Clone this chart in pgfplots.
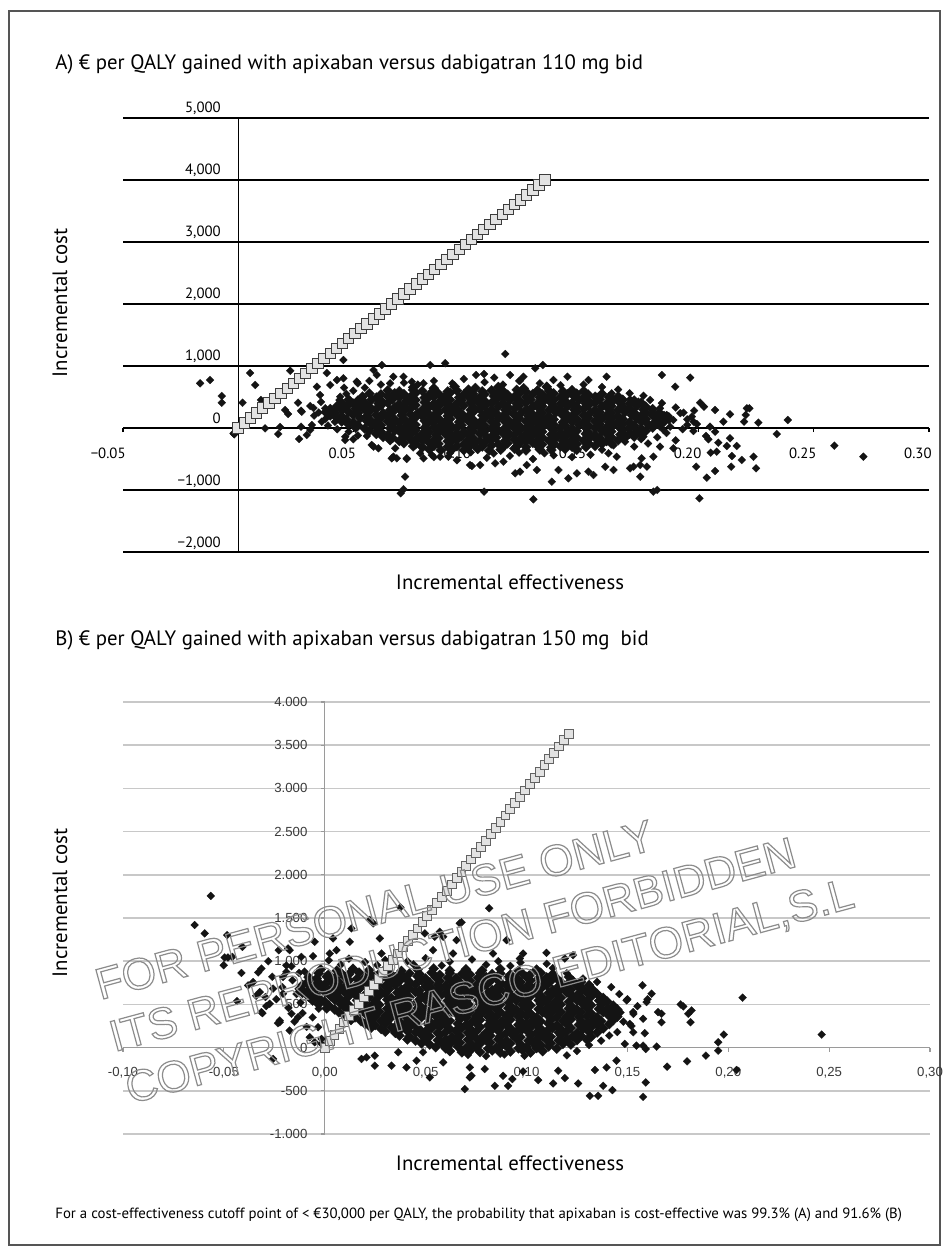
\documentclass[border=0pt]{standalone}
\usepackage{fontspec}
\usepackage{pgfplots}
\pgfplotsset{compat=1.18}
\setmainfont{PT Sans}
\newfontfamily\arialf{Liberation Sans}
\definecolor{framec}{HTML}{555555}
\definecolor{sqfill}{HTML}{E2E2E2}
\definecolor{sqdraw}{HTML}{3C3C3C}
\definecolor{gridB}{HTML}{C8C8C8}
\definecolor{axisB}{HTML}{9A9A9A}
\definecolor{labB}{HTML}{3A3A3A}
\definecolor{wmark}{HTML}{8C8C8C}
\pgfplotsset{
 scat/.style={only marks, mark=square*, mark size=1.4pt, mark options={rotate=45, fill=black!92, draw=black!92, line width=0.1pt}},
 core/.style={only marks, mark=square*, mark size=1.8pt, mark options={rotate=45, fill=black!92, draw=black!92, line width=0.1pt}},
}
\newcommand{\outl}[1]{\special{pdf:literal direct 1 Tr 0.6 w}#1\special{pdf:literal direct 0 Tr}}
\begin{document}
\begin{tikzpicture}
\useasboundingbox (0pt,0pt) rectangle (474.5pt,-628pt);
\fill[white] (0pt,0pt) rectangle (474.5pt,-628pt);
\draw[framec, line width=0.8pt] (4.5pt,-5.5pt) rectangle (470pt,-622.5pt);

% ---------------- Panel A ----------------
\begin{axis}[
  at={(61.5pt,-276pt)}, anchor=south west,
  scale only axis, width=403pt, height=217pt,
  xmin=-0.05, xmax=0.30, ymin=-2000, ymax=5000,
  axis lines=middle, axis line style={-, black, line width=0.6pt},
  hide obscured x ticks=false, hide obscured y ticks=false,
  xtick={-0.05,0.05,0.10,0.15,0.20,0.25,0.30},
  xticklabels={−0.05,0.05,0.10,0.15,0.20,0.25,0.30},
  ytick={-2000,-1000,0,1000,2000,3000,4000,5000},
  yticklabels={{−2,000},{−1,000},0,{1,000},{2,000},{3,000},{4,000},{5,000}},
  ymajorgrids, grid style={black, line width=0.6pt},
  tick align=outside, major tick length=2pt,
  x tick style={black, line width=0.6pt},
  y tick style={draw=none},
  xticklabel style={anchor=north east, inner sep=0pt, xshift=1.5pt, yshift=-8pt, font=\fontsize{7.4}{8}\selectfont},
  yticklabel style={anchor=base east, inner sep=0pt, xshift=-6.5pt, yshift=2.5pt, font=\fontsize{7.4}{8}\selectfont},
]
\addplot[core] table[row sep=\\] {
0.076 655\\ 0.085 640\\ 0.094 670\\ 0.103 645\\ 0.113 660\\ 0.124 640\\ 0.134 665\\
0.065 605\\ 0.070 592\\ 0.076 612\\ 0.080 597\\ 0.085 608\\ 0.091 588\\ 0.095 603\\ 0.100 617\\ 0.106 591\\ 0.110 606\\ 0.115 596\\ 0.121 614\\ 0.125 587\\ 0.130 604\\ 0.135 599\\ 0.141 592\\ 0.145 609\\ 0.150 596\\
0.057 556\\ 0.062 541\\ 0.068 559\\ 0.072 544\\ 0.077 563\\ 0.083 537\\ 0.087 551\\ 0.092 568\\ 0.098 539\\ 0.102 554\\ 0.107 546\\ 0.113 563\\ 0.117 536\\ 0.122 556\\ 0.128 549\\ 0.132 541\\ 0.137 558\\ 0.143 546\\ 0.147 553\\ 0.152 539\\ 0.158 552\\
0.054 505\\ 0.060 491\\ 0.065 512\\ 0.070 496\\ 0.075 507\\ 0.081 488\\ 0.085 503\\ 0.090 516\\ 0.096 492\\ 0.100 506\\ 0.105 495\\ 0.111 514\\ 0.115 489\\ 0.120 504\\ 0.125 498\\ 0.131 493\\ 0.135 510\\ 0.140 497\\ 0.146 506\\ 0.150 490\\ 0.155 503\\ 0.161 496\\ 0.165 508\\
0.048 456\\ 0.052 441\\ 0.058 459\\ 0.062 444\\ 0.067 463\\ 0.073 437\\ 0.077 451\\ 0.082 468\\ 0.088 439\\ 0.092 454\\ 0.097 446\\ 0.103 463\\ 0.107 436\\ 0.112 456\\ 0.118 449\\ 0.122 441\\ 0.127 458\\ 0.133 446\\ 0.137 453\\ 0.142 439\\ 0.148 452\\ 0.152 444\\ 0.157 461\\ 0.163 447\\ 0.167 455\\ 0.172 442\\
0.045 405\\ 0.050 391\\ 0.055 412\\ 0.061 396\\ 0.065 407\\ 0.070 388\\ 0.075 403\\ 0.081 416\\ 0.085 392\\ 0.090 406\\ 0.095 395\\ 0.101 414\\ 0.105 389\\ 0.110 404\\ 0.115 398\\ 0.121 393\\ 0.125 410\\ 0.130 397\\ 0.136 406\\ 0.140 390\\ 0.145 403\\ 0.151 396\\ 0.155 408\\ 0.160 394\\ 0.166 402\\ 0.170 391\\ 0.175 407\\
0.043 356\\ 0.047 341\\ 0.053 359\\ 0.057 344\\ 0.062 363\\ 0.068 337\\ 0.072 351\\ 0.077 368\\ 0.083 339\\ 0.087 354\\ 0.092 346\\ 0.098 363\\ 0.102 336\\ 0.107 356\\ 0.113 349\\ 0.117 341\\ 0.122 358\\ 0.128 346\\ 0.132 353\\ 0.137 339\\ 0.143 352\\ 0.147 344\\ 0.152 361\\ 0.158 347\\ 0.162 355\\ 0.167 342\\ 0.173 357\\ 0.177 345\\
0.040 305\\ 0.045 291\\ 0.051 312\\ 0.055 296\\ 0.060 307\\ 0.066 288\\ 0.070 303\\ 0.075 316\\ 0.080 292\\ 0.086 306\\ 0.090 295\\ 0.095 314\\ 0.101 289\\ 0.105 304\\ 0.110 298\\ 0.116 293\\ 0.120 310\\ 0.125 297\\ 0.131 306\\ 0.135 290\\ 0.140 303\\ 0.146 296\\ 0.150 308\\ 0.155 294\\ 0.161 302\\ 0.165 291\\ 0.170 307\\ 0.176 298\\ 0.180 304\\
0.038 256\\ 0.042 241\\ 0.048 259\\ 0.052 244\\ 0.057 263\\ 0.063 237\\ 0.067 251\\ 0.072 268\\ 0.078 239\\ 0.082 254\\ 0.087 246\\ 0.093 263\\ 0.097 236\\ 0.102 256\\ 0.108 249\\ 0.112 241\\ 0.117 258\\ 0.123 246\\ 0.127 253\\ 0.132 239\\ 0.138 252\\ 0.142 244\\ 0.147 261\\ 0.153 247\\ 0.157 255\\ 0.162 242\\ 0.168 257\\ 0.172 245\\ 0.177 251\\ 0.183 243\\
0.040 205\\ 0.045 191\\ 0.050 212\\ 0.056 196\\ 0.060 207\\ 0.065 188\\ 0.071 203\\ 0.075 216\\ 0.080 192\\ 0.085 206\\ 0.091 195\\ 0.095 214\\ 0.100 189\\ 0.106 204\\ 0.110 198\\ 0.115 193\\ 0.120 210\\ 0.126 197\\ 0.130 206\\ 0.135 190\\ 0.141 203\\ 0.145 196\\ 0.150 208\\ 0.156 194\\ 0.160 202\\ 0.165 191\\ 0.171 207\\ 0.175 198\\ 0.180 204\\ 0.185 193\\
0.043 156\\ 0.047 141\\ 0.053 159\\ 0.057 144\\ 0.062 163\\ 0.068 137\\ 0.072 151\\ 0.077 168\\ 0.083 139\\ 0.087 154\\ 0.092 146\\ 0.098 163\\ 0.102 136\\ 0.107 156\\ 0.113 149\\ 0.117 141\\ 0.122 158\\ 0.128 146\\ 0.132 153\\ 0.137 139\\ 0.143 152\\ 0.147 144\\ 0.152 161\\ 0.158 147\\ 0.162 155\\ 0.167 142\\ 0.173 157\\ 0.177 145\\ 0.182 151\\ 0.187 143\\
0.045 105\\ 0.050 91\\ 0.056 112\\ 0.060 96\\ 0.065 107\\ 0.070 88\\ 0.075 103\\ 0.081 116\\ 0.085 92\\ 0.090 106\\ 0.096 95\\ 0.100 114\\ 0.105 89\\ 0.110 104\\ 0.116 98\\ 0.120 93\\ 0.125 110\\ 0.130 97\\ 0.135 106\\ 0.141 90\\ 0.145 103\\ 0.150 96\\ 0.155 108\\ 0.161 94\\ 0.165 102\\ 0.170 91\\ 0.175 107\\ 0.181 98\\ 0.185 104\\
0.048 56\\ 0.052 41\\ 0.058 59\\ 0.062 44\\ 0.067 63\\ 0.073 37\\ 0.077 51\\ 0.082 68\\ 0.088 39\\ 0.092 54\\ 0.097 46\\ 0.103 63\\ 0.107 36\\ 0.112 56\\ 0.118 49\\ 0.122 41\\ 0.127 58\\ 0.133 46\\ 0.137 53\\ 0.142 39\\ 0.148 52\\ 0.152 44\\ 0.157 61\\ 0.163 47\\ 0.167 55\\ 0.172 42\\ 0.178 57\\ 0.183 45\\
0.051 5\\ 0.055 -9\\ 0.060 12\\ 0.066 -4\\ 0.070 7\\ 0.075 -12\\ 0.081 3\\ 0.085 16\\ 0.090 -8\\ 0.095 6\\ 0.101 -5\\ 0.105 14\\ 0.110 -11\\ 0.116 4\\ 0.120 -2\\ 0.125 -7\\ 0.130 10\\ 0.136 -3\\ 0.140 6\\ 0.145 -10\\ 0.151 3\\ 0.155 -4\\ 0.160 8\\ 0.166 -6\\ 0.170 2\\ 0.175 -9\\ 0.180 7\\
0.057 -44\\ 0.062 -59\\ 0.068 -41\\ 0.072 -56\\ 0.077 -37\\ 0.083 -63\\ 0.087 -49\\ 0.092 -32\\ 0.098 -61\\ 0.102 -46\\ 0.107 -54\\ 0.113 -37\\ 0.117 -64\\ 0.122 -44\\ 0.128 -51\\ 0.132 -59\\ 0.137 -42\\ 0.143 -54\\ 0.147 -47\\ 0.152 -61\\ 0.158 -48\\ 0.162 -56\\ 0.167 -39\\ 0.173 -53\\ 0.177 -45\\
0.060 -95\\ 0.065 -109\\ 0.071 -88\\ 0.075 -104\\ 0.080 -93\\ 0.086 -112\\ 0.090 -97\\ 0.095 -84\\ 0.100 -108\\ 0.105 -94\\ 0.111 -105\\ 0.115 -86\\ 0.120 -111\\ 0.125 -96\\ 0.130 -102\\ 0.136 -107\\ 0.140 -90\\ 0.145 -103\\ 0.151 -94\\ 0.155 -110\\ 0.160 -97\\ 0.166 -104\\ 0.170 -92\\ 0.175 -109\\
0.063 -144\\ 0.067 -159\\ 0.072 -141\\ 0.078 -156\\ 0.082 -137\\ 0.087 -163\\ 0.093 -149\\ 0.097 -132\\ 0.102 -161\\ 0.108 -146\\ 0.112 -154\\ 0.117 -137\\ 0.123 -164\\ 0.127 -144\\ 0.132 -151\\ 0.138 -159\\ 0.142 -142\\ 0.147 -154\\ 0.153 -147\\ 0.157 -161\\ 0.162 -148\\ 0.168 -156\\ 0.172 -139\\
0.066 -195\\ 0.070 -209\\ 0.075 -188\\ 0.080 -204\\ 0.085 -193\\ 0.091 -212\\ 0.095 -197\\ 0.100 -184\\ 0.105 -208\\ 0.110 -194\\ 0.116 -205\\ 0.120 -186\\ 0.125 -211\\ 0.130 -196\\ 0.135 -202\\ 0.141 -207\\ 0.145 -190\\ 0.150 -203\\ 0.156 -194\\ 0.160 -210\\ 0.165 -197\\
0.072 -244\\ 0.077 -259\\ 0.083 -241\\ 0.087 -256\\ 0.092 -237\\ 0.098 -263\\ 0.102 -249\\ 0.107 -232\\ 0.113 -261\\ 0.117 -246\\ 0.122 -254\\ 0.128 -237\\ 0.132 -264\\ 0.137 -244\\ 0.143 -251\\ 0.147 -259\\ 0.152 -242\\ 0.158 -254\\ 0.162 -247\\
0.076 -295\\ 0.080 -309\\ 0.085 -288\\ 0.091 -304\\ 0.095 -293\\ 0.100 -312\\ 0.106 -297\\ 0.110 -284\\ 0.115 -308\\ 0.121 -294\\ 0.125 -305\\ 0.130 -286\\ 0.136 -311\\ 0.140 -296\\ 0.145 -302\\ 0.151 -307\\ 0.155 -290\\
0.083 -344\\ 0.088 -359\\ 0.093 -341\\ 0.098 -356\\ 0.104 -337\\ 0.109 -363\\ 0.114 -349\\ 0.120 -332\\ 0.125 -361\\ 0.131 -346\\ 0.136 -354\\ 0.142 -337\\ 0.147 -351\\
};
\addplot[scat] table[row sep=\\] {
0.092 -405\\ 0.101 -392\\ 0.111 -410\\ 0.122 -398\\ 0.133 -407\\
0.0052 887\\ 0.0074 694\\ 0.0019 408\\ -0.0017 -102\\ 0.0117 -5\\ 0.0099 452\\ 0.0226 924\\ 0.0204 290\\ 0.0217 226\\ 0.026 408\\ 0.0273 279\\ 0.0182 16\\ 0.0174 -97\\ 0.0265 -177\\ 0.0298 -113\\ 0.0273 21\\ 0.032 48\\ 0.0327 323\\ 0.0342 666\\ 0.0385 887\\ 0.0457 1097\\ 0.040 694\\ 0.0429 774\\ 0.0457 802\\ 0.0515 747\\ 0.0588 935\\ 0.0624 1016\\ 0.0602 855\\ 0.0356 532\\ 0.0378 318\\ 0.0313 355\\ 0.0443 505\\ 0.0465 -140\\ 0.050 -182\\ 0.0559 -129\\ 0.058 -274\\ 0.0609 -327\\ 0.0667 -489\\ 0.0689 -489\\ 0.0732 -489\\ 0.0725 -785\\ 0.0718 -989\\ 0.0706 -1053\\ 0.0682 -327\\ 0.079 -408\\ 0.0805 -489\\ 0.0841 -435\\ 0.0877 -463\\ 0.0913 -463\\ 0.0834 1016\\ 0.0899 1044\\ 0.0718 827\\ 0.0754 747\\ 0.066 721\\ 0.0674 827\\ 0.0805 721\\ 0.1007 -597\\
0.116 1194\\ 0.1323 1016\\ 0.129 963\\ 0.1033 855\\ 0.1068 871\\ 0.1112 812\\ 0.1181 855\\ 0.1224 763\\ 0.1239 827\\ 0.1369 774\\ 0.143 827\\ 0.1521 774\\ 0.16 827\\ 0.184 855\\ 0.1963 812\\ 0.1898 666\\ 0.1622 559\\ 0.1558 505\\ 0.1702 462\\ 0.1738 425\\ 0.1789 452\\ 0.1832 318\\ 0.1861 210\\ 0.189 129\\ 0.1934 247\\ 0.197 183\\ 0.1977 102\\ 0.1876 21\\ 0.1847 -32\\ 0.1803 21\\ 0.176 -140\\ 0.1717 -140\\ 0.1673 -86\\ 0.1832 -301\\ 0.189 -327\\ 0.1803 -463\\ 0.1752 -489\\ 0.1717 -624\\ 0.1746 -597\\ 0.1775 -624\\ 0.1746 -785\\ 0.1702 -650\\ 0.163 -677\\ 0.1594 -624\\ 0.1543 -758\\ 0.1521 -704\\ 0.1471 -731\\ 0.1434 -811\\ 0.1362 -866\\ 0.1391 -677\\ 0.1297 -677\\ 0.1253 -597\\ 0.1224 -704\\ 0.1203 -731\\ 0.1152 -543\\ 0.1116 -570\\ 0.1051 -597\\ 0.1015 -613\\ 0.1068 -1027\\ 0.1282 -1150\\ 0.1803 -1027\\ 0.182 -1000\\ 0.2003 -1134\\ 0.1644 -463\\ 0.1608 -408\\
0.2006 408\\ 0.2023 344\\ 0.2071 290\\ 0.2136 221\\ 0.222 318\\ 0.2204 210\\ 0.2197 102\\ 0.2259 86\\ 0.2387 129\\ 0.2107 102\\ 0.1992 64\\ 0.2049 21\\ 0.1977 -48\\ 0.2071 -60\\ 0.2032 -129\\ 0.2042 -182\\ 0.2085 -237\\ 0.2136 -166\\ 0.2122 -290\\ 0.2165 -290\\ 0.2052 -398\\ 0.2078 -382\\ 0.2144 -452\\ 0.2187 -516\\ 0.2238 -463\\ 0.1989 -624\\ 0.2071 -694\\ 0.2141 -624\\ 0.2249 -650\\ 0.2035 -801\\ 0.2339 -97\\ 0.2589 -285\\ 0.2715 -463\\ 0.2209 318\\
-0.0165 721\\ -0.0122 774\\ -0.0071 516\\ -0.0071 408\\ -0.002 -86\\ 0.0276 263\\ 0.0313 -32\\ 0.0363 102\\ 0.0465 -194\\ 0.0588 -301\\ 0.0674 -463\\ 0.0732 -500\\
0.035 250\\ 0.038 150\\ 0.033 200\\ 0.042 100\\ 0.044 450\\ 0.047 550\\ 0.036 420\\ 0.039 40\\ 0.043 -20\\ 0.048 -60\\ 0.052 -120\\ 0.055 650\\ 0.050 600\\ 0.052 720\\ 0.057 760\\ 0.062 700\\ 0.046 650\\
0.072 730\\ 0.078 700\\ 0.085 760\\ 0.093 720\\ 0.098 790\\ 0.107 740\\ 0.115 700\\ 0.122 760\\ 0.131 720\\ 0.140 690\\ 0.150 700\\ 0.158 660\\ 0.165 620\\ 0.170 560\\ 0.176 520\\
0.085 -470\\ 0.095 -520\\ 0.108 -480\\ 0.118 -450\\ 0.128 -500\\ 0.137 -440\\ 0.145 -470\\ 0.153 -430\\ 0.158 -350\\ 0.163 -280\\ 0.168 -220\\ 0.172 -300\\ 0.175 -180\\ 0.178 -250\\ 0.182 -150\\ 0.186 -80\\ 0.190 -200\\ 0.193 -20\\ 0.195 50\\
0.176 380\\ 0.180 280\\ 0.184 400\\ 0.187 190\\ 0.190 330\\ 0.192 240\\ 0.195 140\\ 0.198 280\\
};
\addplot[only marks, mark=square*, mark size=2.6pt, mark options={fill=sqfill, draw=sqdraw, line width=0.5pt}] coordinates {
(0,0) (0.00267,80) (0.00533,160) (0.008,240) (0.01067,320) (0.01333,400) (0.016,480) (0.01867,560) (0.02133,640) (0.024,720)
(0.02667,800) (0.02933,880) (0.032,960) (0.03467,1040) (0.03733,1120) (0.04,1200) (0.04267,1280) (0.04533,1360) (0.048,1440) (0.05067,1520)
(0.05333,1600) (0.056,1680) (0.05867,1760) (0.06133,1840) (0.064,1920) (0.06667,2000) (0.06933,2080) (0.072,2160) (0.07467,2240) (0.07733,2320)
(0.08,2400) (0.08267,2480) (0.08533,2560) (0.088,2640) (0.09067,2720) (0.09333,2800) (0.096,2880) (0.09867,2960) (0.10133,3040) (0.104,3120)
(0.10667,3200) (0.10933,3280) (0.112,3360) (0.11467,3440) (0.11733,3520) (0.12,3600) (0.12267,3680) (0.12533,3760) (0.128,3840) (0.13067,3920) (0.13333,4000)
};
\end{axis}

\node[anchor=west, inner sep=0pt, font=\fontsize{10.4}{12}\selectfont] at (27.5pt,-32pt) {A) € per QALY gained with apixaban versus dabigatran 110 mg bid};
\node[rotate=90, inner sep=0pt, font=\fontsize{10.4}{12}\selectfont] at (30pt,-151.5pt) {Incremental cost};
\node[inner sep=0pt, font=\fontsize{10.4}{12}\selectfont] at (255pt,-291pt) {Incremental effectiveness};

% ---------------- Panel B ----------------
\begin{axis}[
  at={(61.5pt,-567pt)}, anchor=south west,
  scale only axis, width=403.5pt, height=216pt,
  xmin=-0.10, xmax=0.30, ymin=-1000, ymax=4000,
  axis lines=middle, axis line style={-, axisB, line width=0.6pt},
  hide obscured x ticks=false, hide obscured y ticks=false,
  xtick={-0.10,-0.05,0,0.05,0.10,0.15,0.20,0.25,0.30},
  xticklabels={{-0,10},{-0,05},{0,00},{0,05},{0,10},{0,15},{0,20},{0,25},{0,30}},
  ytick={-1000,-500,0,500,1000,1500,2000,2500,3000,3500,4000},
  yticklabels={{-1.000},{-500},0,500,{1.000},{1.500},{2.000},{2.500},{3.000},{3.500},{4.000}},
  ymajorgrids, grid style={gridB, line width=0.8pt},
  tick align=outside, major tick length=2pt,
  tick style={axisB, line width=0.6pt},
  xticklabel style={anchor=north, inner sep=0pt, yshift=-7.5pt, text=labB, font=\arialf\fontsize{6.6}{7}\selectfont},
  yticklabel style={anchor=east, inner sep=0pt, xshift=-6.5pt, text=labB, font=\arialf\fontsize{6.6}{7}\selectfont},
]
\addplot[core] table[row sep=\\] {
-0.002 905\\ 0.006 890\\ 0.014 912\\ 0.022 896\\ 0.030 908\\ 0.038 887\\ 0.046 903\\ 0.054 915\\ 0.062 892\\ 0.070 906\\ 0.078 894\\ 0.087 911\\ 0.096 889\\ 0.105 902\\
-0.003 860\\ 0.002 846\\ 0.008 864\\ 0.012 849\\ 0.017 868\\ 0.023 842\\ 0.027 856\\ 0.032 871\\ 0.038 844\\ 0.042 859\\ 0.047 851\\ 0.053 868\\ 0.057 841\\ 0.062 861\\ 0.068 853\\ 0.072 846\\ 0.077 863\\ 0.083 851\\ 0.087 858\\ 0.092 844\\ 0.098 857\\ 0.102 849\\ 0.107 866\\ 0.113 852\\
-0.008 815\\ -0.004 801\\ 0.001 822\\ 0.005 806\\ 0.010 817\\ 0.016 798\\ 0.020 813\\ 0.025 826\\ 0.031 802\\ 0.035 816\\ 0.040 805\\ 0.046 824\\ 0.050 799\\ 0.055 814\\ 0.061 808\\ 0.065 803\\ 0.070 820\\ 0.076 807\\ 0.080 816\\ 0.085 800\\ 0.091 813\\ 0.095 806\\ 0.100 818\\ 0.106 804\\ 0.110 812\\ 0.115 801\\ 0.121 817\\
-0.008 770\\ -0.003 756\\ 0.003 774\\ 0.007 759\\ 0.012 778\\ 0.018 752\\ 0.022 766\\ 0.027 781\\ 0.033 754\\ 0.037 769\\ 0.042 761\\ 0.048 778\\ 0.052 751\\ 0.057 771\\ 0.063 763\\ 0.067 756\\ 0.072 773\\ 0.078 761\\ 0.082 768\\ 0.087 754\\ 0.093 767\\ 0.097 759\\ 0.102 776\\ 0.108 762\\ 0.112 770\\ 0.117 757\\ 0.123 772\\ 0.127 760\\
-0.011 725\\ -0.005 711\\ 0.000 732\\ 0.005 716\\ 0.011 727\\ 0.015 708\\ 0.020 723\\ 0.026 736\\ 0.030 712\\ 0.035 726\\ 0.041 715\\ 0.045 734\\ 0.050 709\\ 0.056 724\\ 0.060 718\\ 0.065 713\\ 0.071 730\\ 0.075 717\\ 0.080 726\\ 0.086 710\\ 0.090 723\\ 0.095 716\\ 0.101 728\\ 0.105 714\\ 0.110 722\\ 0.116 711\\ 0.120 727\\ 0.125 718\\ 0.131 724\\
-0.012 680\\ -0.008 666\\ -0.002 684\\ 0.002 669\\ 0.008 688\\ 0.013 662\\ 0.017 676\\ 0.023 691\\ 0.027 664\\ 0.032 679\\ 0.038 671\\ 0.042 688\\ 0.047 661\\ 0.053 681\\ 0.057 673\\ 0.062 666\\ 0.068 683\\ 0.072 671\\ 0.077 678\\ 0.083 664\\ 0.087 677\\ 0.092 669\\ 0.098 686\\ 0.102 672\\ 0.107 680\\ 0.113 667\\ 0.117 682\\ 0.122 670\\ 0.128 678\\ 0.133 665\\
-0.011 635\\ -0.005 621\\ 0.000 642\\ 0.006 626\\ 0.010 637\\ 0.015 618\\ 0.021 633\\ 0.025 646\\ 0.030 622\\ 0.036 636\\ 0.040 625\\ 0.045 644\\ 0.051 619\\ 0.055 634\\ 0.060 628\\ 0.066 623\\ 0.070 640\\ 0.075 627\\ 0.081 636\\ 0.085 620\\ 0.090 633\\ 0.096 626\\ 0.100 638\\ 0.105 624\\ 0.111 632\\ 0.115 621\\ 0.120 637\\ 0.126 628\\ 0.130 634\\ 0.135 622\\
-0.008 590\\ -0.003 576\\ 0.003 594\\ 0.007 579\\ 0.012 598\\ 0.018 572\\ 0.022 586\\ 0.027 601\\ 0.033 574\\ 0.037 589\\ 0.042 581\\ 0.048 598\\ 0.052 571\\ 0.057 591\\ 0.063 583\\ 0.067 576\\ 0.072 593\\ 0.078 581\\ 0.082 588\\ 0.087 574\\ 0.093 587\\ 0.097 579\\ 0.102 596\\ 0.108 582\\ 0.112 590\\ 0.117 577\\ 0.123 592\\ 0.127 580\\ 0.132 588\\ 0.138 575\\
-0.006 545\\ 0.000 531\\ 0.005 552\\ 0.010 536\\ 0.016 547\\ 0.020 528\\ 0.025 543\\ 0.031 556\\ 0.035 532\\ 0.040 546\\ 0.046 535\\ 0.050 554\\ 0.055 529\\ 0.061 544\\ 0.065 538\\ 0.070 533\\ 0.076 550\\ 0.080 537\\ 0.085 546\\ 0.091 530\\ 0.095 543\\ 0.100 536\\ 0.106 548\\ 0.110 534\\ 0.115 542\\ 0.121 531\\ 0.125 547\\ 0.130 538\\ 0.136 544\\ 0.140 532\\
-0.003 500\\ 0.002 486\\ 0.008 504\\ 0.012 489\\ 0.017 508\\ 0.023 482\\ 0.027 496\\ 0.032 511\\ 0.038 484\\ 0.042 499\\ 0.047 491\\ 0.053 508\\ 0.057 481\\ 0.062 501\\ 0.068 493\\ 0.072 486\\ 0.077 503\\ 0.083 491\\ 0.087 498\\ 0.092 484\\ 0.098 497\\ 0.102 489\\ 0.107 506\\ 0.113 492\\ 0.117 500\\ 0.122 487\\ 0.128 502\\ 0.132 490\\ 0.137 498\\ 0.143 485\\
0.001 455\\ 0.005 441\\ 0.010 462\\ 0.016 446\\ 0.020 457\\ 0.025 438\\ 0.031 453\\ 0.035 466\\ 0.040 442\\ 0.046 456\\ 0.050 445\\ 0.055 464\\ 0.061 439\\ 0.065 454\\ 0.070 448\\ 0.076 443\\ 0.080 460\\ 0.085 447\\ 0.091 456\\ 0.095 440\\ 0.100 453\\ 0.106 446\\ 0.110 458\\ 0.115 444\\ 0.121 452\\ 0.125 441\\ 0.130 457\\ 0.136 448\\ 0.140 454\\ 0.145 442\\
0.007 410\\ 0.012 396\\ 0.018 414\\ 0.022 399\\ 0.027 418\\ 0.033 392\\ 0.037 406\\ 0.042 421\\ 0.048 394\\ 0.052 409\\ 0.057 401\\ 0.063 418\\ 0.067 391\\ 0.072 411\\ 0.078 403\\ 0.082 396\\ 0.087 413\\ 0.093 401\\ 0.097 408\\ 0.102 394\\ 0.108 407\\ 0.112 399\\ 0.117 416\\ 0.123 402\\ 0.127 410\\ 0.132 397\\ 0.138 412\\ 0.142 400\\ 0.146 406\\
0.010 365\\ 0.015 351\\ 0.021 372\\ 0.025 356\\ 0.030 367\\ 0.036 348\\ 0.040 363\\ 0.045 376\\ 0.051 352\\ 0.055 366\\ 0.060 355\\ 0.066 374\\ 0.070 349\\ 0.075 364\\ 0.081 358\\ 0.085 353\\ 0.090 370\\ 0.096 357\\ 0.100 366\\ 0.105 350\\ 0.111 363\\ 0.115 356\\ 0.120 368\\ 0.126 354\\ 0.130 362\\ 0.135 351\\ 0.141 367\\ 0.145 358\\
0.013 320\\ 0.018 306\\ 0.023 324\\ 0.028 309\\ 0.032 328\\ 0.037 302\\ 0.043 316\\ 0.047 331\\ 0.052 304\\ 0.058 319\\ 0.062 311\\ 0.067 328\\ 0.073 301\\ 0.077 321\\ 0.082 313\\ 0.088 306\\ 0.092 323\\ 0.097 311\\ 0.103 318\\ 0.107 304\\ 0.112 317\\ 0.118 309\\ 0.122 326\\ 0.127 312\\ 0.133 320\\ 0.137 307\\ 0.143 318\\
0.020 275\\ 0.025 261\\ 0.030 282\\ 0.036 266\\ 0.040 277\\ 0.045 258\\ 0.051 273\\ 0.055 286\\ 0.060 262\\ 0.066 276\\ 0.070 265\\ 0.075 284\\ 0.081 259\\ 0.085 274\\ 0.090 268\\ 0.096 263\\ 0.100 280\\ 0.105 267\\ 0.111 276\\ 0.115 260\\ 0.120 273\\ 0.126 266\\ 0.130 278\\ 0.135 264\\ 0.141 272\\
0.023 230\\ 0.028 216\\ 0.033 234\\ 0.038 219\\ 0.042 238\\ 0.047 212\\ 0.053 226\\ 0.057 241\\ 0.062 214\\ 0.068 229\\ 0.072 221\\ 0.077 238\\ 0.083 211\\ 0.087 231\\ 0.092 223\\ 0.098 216\\ 0.102 233\\ 0.107 221\\ 0.113 228\\ 0.117 214\\ 0.122 227\\ 0.128 219\\ 0.132 236\\ 0.138 222\\
0.030 185\\ 0.035 171\\ 0.041 192\\ 0.045 176\\ 0.050 187\\ 0.056 168\\ 0.060 183\\ 0.065 196\\ 0.071 172\\ 0.075 186\\ 0.080 175\\ 0.086 194\\ 0.090 169\\ 0.095 184\\ 0.101 178\\ 0.105 173\\ 0.110 190\\ 0.116 177\\ 0.120 186\\ 0.125 170\\ 0.131 183\\ 0.135 176\\
0.037 140\\ 0.042 126\\ 0.048 144\\ 0.052 129\\ 0.057 148\\ 0.063 122\\ 0.067 136\\ 0.072 151\\ 0.078 124\\ 0.082 139\\ 0.087 131\\ 0.093 148\\ 0.097 121\\ 0.102 141\\ 0.108 133\\ 0.112 126\\ 0.117 143\\ 0.123 131\\ 0.127 138\\ 0.132 124\\
0.041 95\\ 0.045 81\\ 0.050 102\\ 0.056 86\\ 0.060 97\\ 0.065 78\\ 0.071 93\\ 0.075 106\\ 0.080 82\\ 0.086 96\\ 0.090 85\\ 0.095 104\\ 0.101 79\\ 0.105 94\\ 0.110 88\\ 0.116 83\\ 0.120 100\\ 0.125 87\\ 0.130 93\\
0.048 50\\ 0.052 36\\ 0.058 54\\ 0.062 39\\ 0.067 58\\ 0.073 32\\ 0.077 46\\ 0.082 61\\ 0.088 34\\ 0.092 49\\ 0.097 41\\ 0.103 58\\ 0.107 31\\ 0.112 51\\ 0.118 43\\ 0.122 36\\
0.055 5\\ 0.060 -9\\ 0.066 12\\ 0.070 -4\\ 0.075 7\\ 0.081 -12\\ 0.085 3\\ 0.090 16\\ 0.096 -8\\ 0.100 6\\ 0.105 -5\\ 0.111 14\\ 0.115 -11\\
0.062 -40\\ 0.068 -54\\ 0.072 -36\\ 0.077 -51\\ 0.083 -32\\ 0.087 -58\\ 0.092 -44\\ 0.098 -27\\ 0.102 -56\\ 0.108 -41\\
};
\addplot[scat] table[row sep=\\] {
0.071 -85\\ 0.080 -98\\ 0.089 -80\\ 0.099 -95\\
-0.0565 1756\\ -0.0645 1419\\ -0.0595 1322\\ -0.0484 1302\\ -0.0408 1166\\ -0.0496 1043\\ -0.048 1043\\ -0.0458 1050\\ -0.0501 953\\ -0.0413 864\\ -0.0435 538\\ -0.0355 759\\ -0.0314 915\\ -0.0322 643\\ -0.0294 585\\ -0.0309 399\\ -0.0273 508\\ -0.0256 683\\ -0.0228 1128\\ -0.0232 283\\ -0.0223 314\\ -0.0256 -131\\ -0.0207 624\\ -0.019 876\\ -0.0165 392\\ -0.0182 1148\\ -0.0127 864\\ -0.0116 1050\\ -0.0058 1058\\ -0.005 1225\\ -0.0038 683\\ -0.0165 942\\ -0.0207 818\\ -0.0016 43\\ -0.0174 1128\\
0.0041 1264\\ 0.0132 1380\\ 0.0223 1477\\ 0.024 1438\\ 0.0375 1624\\ 0.0815 1613\\ 0.0669 1438\\ 0.0901 1244\\ 0.0983 1089\\ 0.0834 1089\\ 0.057 1341\\ 0.0587 1283\\ 0.0496 1322\\ 0.0487 1457\\ 0.0273 1264\\ 0.0124 1225\\ 0.0281 1089\\ 0.0025 1089\\ 0.0058 1128\\ 0.0678 1450\\ 0.1099 1097\\ 0.119 1031\\ 0.1231 1070\\ 0.0967 1031\\ 0.0545 1283\\ 0.0653 1244\\ 0.0537 1128\\ 0.0636 1089\\
0.2071 578\\ 0.2463 151\\ 0.1978 151\\ 0.195 62\\ 0.195 -35\\ 0.1889 -93\\ 0.1796 -159\\ 0.1697 -221\\ 0.2041 -259\\ 0.1764 500\\ 0.1777 477\\ 0.1802 392\\ 0.1818 430\\ 0.1813 294\\ 0.1652 411\\ 0.1669 392\\ 0.1669 294\\ 0.162 624\\ 0.1575 721\\ 0.1595 527\\ 0.1578 334\\ 0.1586 167\\ 0.1578 23\\ 0.1645 12\\ 0.1591 -15\\ 0.1545 23\\ 0.1487 43\\
0.1591 -403\\ 0.1578 -570\\ 0.1426 -492\\ 0.138 -442\\ 0.1355 -558\\ 0.1314 -558\\ 0.1256 -415\\ 0.119 -353\\ 0.1132 -415\\ 0.1058 -376\\ 0.093 -364\\ 0.0909 -442\\ 0.0843 -442\\ 0.0884 -326\\ 0.0983 -276\\ 0.1157 -267\\ 0.1397 -229\\ 0.1446 -151\\ 0.1339 -259\\ 0.0793 -248\\ 0.0727 -326\\ 0.1529 178\\ 0.1512 275\\ 0.1529 411\\ 0.1496 547\\
-0.0314 411\\ -0.0223 294\\ 0.0182 -131\\ 0.0207 -112\\ 0.0248 -93\\ 0.0248 -209\\ 0.0331 -209\\ 0.0364 -54\\ 0.0521 -345\\ 0.0694 -480\\ 0.0719 -345\\ 0.0719 -229\\ 0.0587 -171\\ 0.0455 -151\\ 0.0405 -229\\ 0.0487 -54\\ -0.0074 120\\ -0.0016 101\\ -0.005 62\\ -0.0174 198\\ -0.0132 352\\ -0.0033 236\\
-0.038 720\\ -0.034 600\\ -0.029 480\\ -0.026 820\\ -0.024 560\\ -0.021 700\\ -0.018 460\\ -0.016 780\\ -0.014 620\\ -0.012 520\\ -0.010 880\\ -0.008 720\\ -0.011 400\\ -0.006 350\\ -0.015 300\\ -0.009 240\\ -0.003 450\\ -0.019 950\\ -0.028 1000\\ -0.033 870\\ -0.007 560\\ -0.013 680\\
0.002 1010\\ 0.012 1030\\ 0.020 990\\ 0.030 1015\\ 0.041 1000\\ 0.050 1035\\ 0.062 995\\ 0.073 1020\\ 0.086 1000\\ 0.097 985\\ 0.008 960\\ 0.026 955\\ 0.044 965\\ 0.058 950\\ 0.080 960\\ 0.092 945\\ 0.110 970\\
0.146 620\\ 0.150 560\\ 0.148 300\\ 0.152 250\\ 0.145 180\\ 0.155 480\\ 0.141 140\\ 0.137 80\\ 0.131 30\\ 0.125 -40\\ 0.120 -90\\ 0.153 390\\ 0.160 560\\ 0.142 700\\ 0.135 760\\ 0.128 800\\ 0.120 860\\ 0.113 920\\
};
\addplot[only marks, mark=square*, mark size=2.2pt, mark options={fill=sqfill, draw=sqdraw!80, line width=0.45pt}] coordinates {
(0,0) (0.00242,72.6) (0.00484,145.2) (0.00726,217.8) (0.00968,290.4) (0.0121,363) (0.01452,435.6) (0.01694,508.2) (0.01936,580.8) (0.02178,653.4)
(0.0242,726) (0.02662,798.6) (0.02904,871.2) (0.03146,943.8) (0.03388,1016.4) (0.0363,1089) (0.03872,1161.6) (0.04114,1234.2) (0.04356,1306.8) (0.04598,1379.4)
(0.0484,1452) (0.05082,1524.6) (0.05324,1597.2) (0.05566,1669.8) (0.05808,1742.4) (0.0605,1815) (0.06292,1887.6) (0.06534,1960.2) (0.06776,2032.8) (0.07018,2105.4)
(0.0726,2178) (0.07502,2250.6) (0.07744,2323.2) (0.07986,2395.8) (0.08228,2468.4) (0.0847,2541) (0.08712,2613.6) (0.08954,2686.2) (0.09196,2758.8) (0.09438,2831.4)
(0.0968,2904) (0.09922,2976.6) (0.10164,3049.2) (0.10406,3121.8) (0.10648,3194.4) (0.1089,3267) (0.11132,3339.6) (0.11374,3412.2) (0.11616,3484.8) (0.11858,3557.4) (0.121,3630)
};
\end{axis}

\node[anchor=west, inner sep=0pt, font=\fontsize{10.4}{12}\selectfont] at (27.5pt,-320pt) {B) € per QALY gained with apixaban versus dabigatran 150 mg\ \ bid};
\node[rotate=90, inner sep=0pt, font=\fontsize{10.4}{12}\selectfont] at (30pt,-451.5pt) {Incremental cost};
\node[inner sep=0pt, font=\fontsize{10.4}{12}\selectfont] at (255pt,-581.5pt) {Incremental effectiveness};
\node[anchor=west, inner sep=0pt, font=\fontsize{7.4}{8}\selectfont] at (27.5pt,-607.5pt) {For a cost-effectiveness cutoff point of < €30,000 per QALY, the probability that apixaban is cost-effective was 99.3\% (A) and 91.6\% (B)};

% watermark
\begin{scope}[every node/.style={anchor=base west, inner sep=0pt, rotate=15.2, color=wmark, font=\arialf\fontsize{22}{24}\selectfont}]
\node at (50pt,-500pt) {\outl{FOR PERSONAL USE ONLY}};
\node at (57pt,-526pt) {\outl{ITS REPRODUCTION FORBIDDEN}};
\node at (65pt,-552pt) {\outl{COPYRIGHT RASCO EDITORIAL,S.L}};
\end{scope}
\end{tikzpicture}
\end{document}
